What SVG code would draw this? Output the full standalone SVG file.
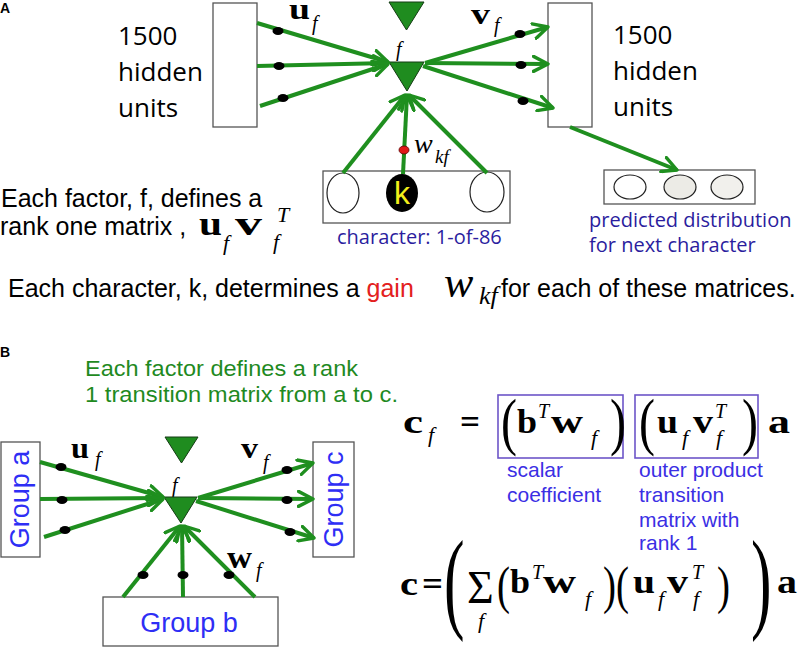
<svg xmlns="http://www.w3.org/2000/svg" width="800" height="647" viewBox="0 0 800 647">
<defs>
<marker id="arr" viewBox="0 0 18 18" refX="16" refY="9" markerWidth="18" markerHeight="18" markerUnits="userSpaceOnUse" orient="auto">
<path d="M1.5,1.5 L16,9 L1.5,16.5" fill="none" stroke="#1f8f1f" stroke-width="3.4" stroke-linecap="round" stroke-linejoin="round"/>
</marker>
</defs>
<style>
.ln{stroke:#1f8f1f;stroke-width:4;fill:none;marker-end:url(#arr)}
.box{fill:#fff;stroke:#555;stroke-width:1.3}
.tri{fill:#1f8c1f;stroke:#143c14;stroke-width:1}
.dot{fill:#000}
.cal{font-family:"Open Sans","Liberation Sans",sans-serif;fill:#000}
.ar{font-family:"Liberation Sans",Arial,sans-serif;fill:#000}
.navy{font-family:"Open Sans","Liberation Sans",sans-serif;fill:#2b1d9e;font-size:20px}
.blu{font-family:"Liberation Sans",Arial,sans-serif;fill:#3b2fe4;font-size:21px}
.grp{font-family:"Liberation Sans",Arial,sans-serif;fill:#2e2ef5;font-size:27px}
.mb{font-family:"Liberation Serif","Times New Roman",serif;font-weight:bold;fill:#000}
.mi{font-family:"Liberation Serif","Times New Roman",serif;font-style:italic;fill:#000}
.mr{font-family:"Liberation Serif","Times New Roman",serif;fill:#000}
.pbox{fill:none;stroke:#6d55c8;stroke-width:1.6}
</style>
<rect width="800" height="647" fill="#fff"/>

<!-- Panel A -->
<text class="ar" x="0" y="13" font-size="14" font-weight="bold">A</text>

<g id="hiddenLeft">
<rect class="box" x="213" y="3" width="44" height="124"/>
<text class="cal" font-size="26"><tspan x="118" y="45">1500</tspan><tspan x="118" y="81">hidden</tspan><tspan x="118" y="117">units</tspan></text>
</g>
<g id="hiddenRight">
<rect class="box" x="548" y="3" width="44" height="124"/>
<text class="cal" font-size="26"><tspan x="613" y="44">1500</tspan><tspan x="613" y="80">hidden</tspan><tspan x="613" y="116">units</tspan></text>
</g>
<g id="factorA">
<polygon class="tri" points="389,2 424,2 406.5,30"/>
<text class="mi" x="396" y="56" font-size="20">f</text>
<polygon class="tri" points="389,62 424,62 407,91"/>
</g>
<g id="charBox">
<rect class="box" x="323" y="171" width="187" height="52"/>
<ellipse cx="343" cy="193" rx="16" ry="20" fill="#fff" stroke="#222" stroke-width="1.2"/>
<ellipse cx="402" cy="193" rx="16" ry="19" fill="#000"/>
<text x="402" y="204" font-family="Liberation Sans,Arial,sans-serif" font-size="32" fill="#f2ee1a" text-anchor="middle">k</text>
<ellipse cx="487" cy="192" rx="17" ry="20" fill="#fff" stroke="#222" stroke-width="1.2"/>
<text class="navy" x="337" y="244">character: 1-of-86</text>
</g>
<g id="predBox">
<rect class="box" x="604" y="170" width="151" height="34"/>
<ellipse cx="630" cy="187" rx="16" ry="12" fill="#fff" stroke="#222" stroke-width="1.2"/>
<ellipse cx="680" cy="187" rx="16" ry="12" fill="#ecebe6" stroke="#222" stroke-width="1.2"/>
<ellipse cx="727" cy="187" rx="16" ry="12" fill="#f1f0ec" stroke="#222" stroke-width="1.2"/>
<text class="navy"><tspan x="589" y="227">predicted distribution</tspan><tspan x="589" y="252">for next character</tspan></text>
</g>

<g id="connectorsA">
<line class="ln" x1="257" y1="23" x2="388" y2="62"/>
<line class="ln" x1="257" y1="66" x2="388" y2="63"/>
<line class="ln" x1="260" y1="106" x2="388" y2="64"/>
<line class="ln" x1="425" y1="63" x2="548" y2="27"/>
<line class="ln" x1="425" y1="63" x2="548" y2="64"/>
<line class="ln" x1="423" y1="66" x2="553" y2="108"/>
<line class="ln" x1="343" y1="173" x2="405" y2="95"/>
<line class="ln" x1="403" y1="174" x2="407" y2="95"/>
<line class="ln" x1="487" y1="173" x2="409" y2="95"/>
<line class="ln" x1="570" y1="127" x2="677" y2="170"/>
</g>
<g id="weightsA">
<ellipse class="dot" cx="278" cy="31" rx="5.5" ry="4"/>
<ellipse class="dot" cx="279" cy="66" rx="5.5" ry="4"/>
<ellipse class="dot" cx="283" cy="98" rx="5.5" ry="4"/>
<ellipse class="dot" cx="520" cy="34" rx="5.5" ry="4"/>
<ellipse class="dot" cx="521" cy="65" rx="5.5" ry="4"/>
<ellipse class="dot" cx="523" cy="101" rx="5.5" ry="4"/>
<ellipse cx="404" cy="150" rx="5" ry="4" fill="#e01818" stroke="#5a0000" stroke-width="0.8"/>
<text class="mb" x="289" y="19" font-size="30" textLength="21" lengthAdjust="spacingAndGlyphs">u</text>
<text class="mi" x="312" y="30" font-size="20">f</text>
<text class="mb" x="471" y="24" font-size="30" textLength="19" lengthAdjust="spacingAndGlyphs">v</text>
<text class="mi" x="494" y="32" font-size="20">f</text>
<text class="mi" x="414" y="153" font-size="28">w</text>
<text class="mi" x="435" y="163" font-size="19">kf</text>
</g>

<g id="captionA">
<text class="ar" font-size="25"><tspan x="1" y="207">Each factor, f, defines a</tspan><tspan x="0" y="235">rank one matrix ,</tspan></text>
<text class="mb" x="199" y="235" font-size="34" textLength="23" lengthAdjust="spacingAndGlyphs">u</text>
<text class="mi" x="223" y="250" font-size="22">f</text>
<text class="mb" x="235" y="235" font-size="34" textLength="27" lengthAdjust="spacingAndGlyphs">v</text>
<text class="mi" x="277" y="222" font-size="22">T</text>
<text class="mi" x="273" y="249" font-size="22">f</text>
<text class="ar" x="8" y="297" font-size="25">Each character, k, determines a <tspan fill="#e32020">gain</tspan></text>
<text class="mi" x="444" y="297" font-size="44">w</text>
<text class="mi" x="479" y="304" font-size="26">kf</text>
<text class="ar" x="501" y="297" font-size="25">for each of these matrices.</text>
</g>

<!-- Panel B -->
<text class="ar" x="0" y="357" font-size="14" font-weight="bold">B</text>
<text class="ar" font-size="22" style="fill:#1f8a1f"><tspan x="85" y="376" textLength="273" lengthAdjust="spacingAndGlyphs">Each factor defines a rank</tspan><tspan x="85" y="402" textLength="313" lengthAdjust="spacingAndGlyphs">1 transition matrix from a to c.</tspan></text>

<g id="groupA">
<rect class="box" x="1" y="442" width="39" height="115"/>
<text class="grp" transform="translate(29,499.5) rotate(-90)" text-anchor="middle">Group a</text>
</g>
<g id="groupC">
<rect class="box" x="313" y="442" width="41" height="115"/>
<text class="grp" transform="translate(343,499.5) rotate(-90)" text-anchor="middle">Group c</text>
</g>
<g id="groupB">
<rect class="box" x="103" y="597" width="175" height="49"/>
<text class="grp" x="189" y="632" text-anchor="middle">Group b</text>
</g>
<g id="factorB">
<polygon class="tri" points="165,437 198,437 181.5,463"/>
<text class="mi" x="172" y="492" font-size="20">f</text>
<polygon class="tri" points="164,497 197,497 181,523"/>
</g>

<g id="connectorsB">
<line class="ln" x1="40" y1="462" x2="163" y2="497"/>
<line class="ln" x1="40" y1="499" x2="163" y2="498"/>
<line class="ln" x1="44" y1="537" x2="163" y2="499"/>
<line class="ln" x1="198" y1="498" x2="313" y2="463"/>
<line class="ln" x1="198" y1="498" x2="313" y2="499"/>
<line class="ln" x1="196" y1="501" x2="314" y2="538"/>
<line class="ln" x1="123" y1="597" x2="180" y2="526"/>
<line class="ln" x1="183" y1="597" x2="182" y2="526"/>
<line class="ln" x1="255" y1="597" x2="184" y2="526"/>
</g>
<g id="weightsB">
<ellipse class="dot" cx="61" cy="467" rx="5.5" ry="4"/>
<ellipse class="dot" cx="62" cy="500" rx="5.5" ry="4"/>
<ellipse class="dot" cx="65" cy="530" rx="5.5" ry="4"/>
<ellipse class="dot" cx="287" cy="470" rx="5.5" ry="4"/>
<ellipse class="dot" cx="287" cy="500" rx="5.5" ry="4"/>
<ellipse class="dot" cx="290" cy="532" rx="5.5" ry="4"/>
<ellipse class="dot" cx="143" cy="575" rx="5.5" ry="4"/>
<ellipse class="dot" cx="183" cy="575" rx="5.5" ry="4"/>
<ellipse class="dot" cx="229" cy="575" rx="5.5" ry="4"/>
<text class="mb" x="71" y="458" font-size="30" textLength="18" lengthAdjust="spacingAndGlyphs">u</text>
<text class="mi" x="95" y="466" font-size="20">f</text>
<text class="mb" x="241" y="458" font-size="30" textLength="17" lengthAdjust="spacingAndGlyphs">v</text>
<text class="mi" x="263" y="469" font-size="20">f</text>
<text class="mb" x="227" y="568" font-size="32" textLength="25" lengthAdjust="spacingAndGlyphs">w</text>
<text class="mi" x="256" y="577" font-size="20">f</text>
</g>

<!-- Equations -->
<g id="equation1">
<text class="mb" x="403" y="433" font-size="33" textLength="20" lengthAdjust="spacingAndGlyphs">c</text>
<text class="mi" x="428" y="442" font-size="22">f</text>
<text class="mb" x="460" y="433" font-size="33" textLength="20" lengthAdjust="spacingAndGlyphs">=</text>
<rect class="pbox" x="498" y="395" width="125" height="63"/>
<text class="mr" font-size="64" transform="translate(501,443) scale(0.75,1)">(</text>
<text class="mb" x="517" y="433" font-size="33" textLength="20" lengthAdjust="spacingAndGlyphs">b</text>
<text class="mi" x="538" y="418" font-size="20">T</text>
<text class="mb" x="551" y="433" font-size="33" textLength="32" lengthAdjust="spacingAndGlyphs">w</text>
<text class="mi" x="591" y="445" font-size="22">f</text>
<text class="mr" font-size="64" transform="translate(610,443) scale(0.75,1)">)</text>
<rect class="pbox" x="635" y="395" width="123" height="63"/>
<text class="mr" font-size="64" transform="translate(639,443) scale(0.75,1)">(</text>
<text class="mb" x="657" y="433" font-size="33" textLength="21" lengthAdjust="spacingAndGlyphs">u</text>
<text class="mi" x="682" y="445" font-size="22">f</text>
<text class="mb" x="693" y="433" font-size="33" textLength="20" lengthAdjust="spacingAndGlyphs">v</text>
<text class="mi" x="715" y="418" font-size="20">T</text>
<text class="mi" x="716" y="445" font-size="22">f</text>
<text class="mr" font-size="64" transform="translate(742,443) scale(0.75,1)">)</text>
<text class="mb" x="768" y="433" font-size="33" textLength="22" lengthAdjust="spacingAndGlyphs">a</text>
<text class="blu"><tspan x="507" y="477">scalar</tspan><tspan x="507" y="502">coefficient</tspan></text>
<text class="blu"><tspan x="639" y="477">outer product</tspan><tspan x="639" y="502">transition</tspan><tspan x="639" y="527">matrix with</tspan><tspan x="639" y="550">rank 1</tspan></text>
</g>
<g id="equation2">
<text class="mb" x="400" y="595" font-size="33" textLength="18" lengthAdjust="spacingAndGlyphs">c</text>
<text class="mb" x="422" y="595" font-size="33" textLength="21" lengthAdjust="spacingAndGlyphs">=</text>
<text class="mr" font-size="112" transform="translate(444,618) scale(0.55,1)">(</text>
<text class="mr" x="467" y="603" font-size="46">Σ</text>
<text class="mi" x="478" y="628" font-size="22">f</text>
<text class="mr" font-size="52" transform="translate(497,603) scale(0.75,1)">(</text>
<text class="mb" x="510" y="593" font-size="33" textLength="20" lengthAdjust="spacingAndGlyphs">b</text>
<text class="mi" x="532" y="579" font-size="20">T</text>
<text class="mb" x="543" y="593" font-size="33" textLength="33" lengthAdjust="spacingAndGlyphs">w</text>
<text class="mi" x="585" y="606" font-size="22">f</text>
<text class="mr" font-size="52" transform="translate(603,603) scale(0.75,1)">)</text>
<text class="mr" font-size="52" transform="translate(616,603) scale(0.75,1)">(</text>
<text class="mb" x="633" y="593" font-size="33" textLength="22" lengthAdjust="spacingAndGlyphs">u</text>
<text class="mi" x="658" y="606" font-size="22">f</text>
<text class="mb" x="667" y="593" font-size="33" textLength="21" lengthAdjust="spacingAndGlyphs">v</text>
<text class="mi" x="692" y="579" font-size="20">T</text>
<text class="mi" x="693" y="606" font-size="22">f</text>
<text class="mr" font-size="52" transform="translate(717,603) scale(0.75,1)">)</text>
<text class="mr" font-size="112" transform="translate(751,618) scale(0.55,1)">)</text>
<text class="mb" x="777" y="593" font-size="33" textLength="20" lengthAdjust="spacingAndGlyphs">a</text>
</g>
</svg>
